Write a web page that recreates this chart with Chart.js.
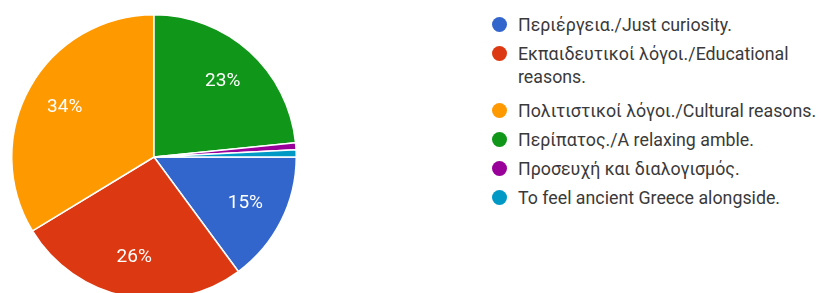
<!DOCTYPE html>
<html>
<head>
<meta charset="utf-8">
<script src="https://cdn.jsdelivr.net/npm/chart.js@4/dist/chart.umd.min.js"></script>
<style>
  html, body { margin: 0; padding: 0; background: #fff; overflow: hidden; }
  body { width: 821px; height: 293px; position: relative; }
  #pie-wrap { position: absolute; left: 11px; top: 14px; width: 286px; height: 286px; }
  #legend { position: absolute; left: 492px; top: 13px; font-family: Roboto, Arial, sans-serif; font-size: 17.8px; color: #3a3a3a; }
  .item { position: relative; padding-left: 26px; line-height: 23px; margin-bottom: 6px; white-space: nowrap; }
  .item.multi { margin-bottom: 11px; }
  .dot { position: absolute; left: 0px; top: 4px; width: 15px; height: 15px; border-radius: 50%; }
</style>
</head>
<body>
<div id="pie-wrap"><canvas id="pie"></canvas></div>
<div id="legend"></div>
<script>
// answers, in legend order
const labels = [
  "Περιέργεια./Just curiosity.",
  ["Εκπαιδευτικοί λόγοι./Educational", "reasons."],
  "Πολιτιστικοί λόγοι./Cultural reasons.",
  "Περίπατος./A relaxing amble.",
  "Προσευχή και διαλογισμός.",
  "To feel ancient Greece alongside."
];
const shares = [14.9, 26.4, 33.7, 23.4, 0.8, 0.8];
const colors = ["#3366cc", "#dc3912", "#ff9900", "#109618", "#990099", "#0099c6"];

const total = shares.reduce((a, b) => a + b, 0);
// orange slice ends at 12 o'clock
const startAngle = 360 - (shares[0] + shares[1] + shares[2]) / total * 360;

// white percent labels inside bigger slices
const pctLabels = {
  id: "pctLabels",
  afterDatasetsDraw(chart) {
    const ctx = chart.ctx;
    const meta = chart.getDatasetMeta(0);
    ctx.save();
    ctx.fillStyle = "#fff";
    ctx.font = "19px Roboto, Arial, sans-serif";
    ctx.textAlign = "center";
    ctx.textBaseline = "middle";
    meta.data.forEach((arc, i) => {
      const pct = shares[i] / total * 100;
      if (pct < 5) return;
      const mid = (arc.startAngle + arc.endAngle) / 2;
      const r = arc.outerRadius * 0.72;
      ctx.fillText(Math.round(pct) + "%", arc.x + Math.cos(mid) * r, arc.y + Math.sin(mid) * r);
    });
    ctx.restore();
  }
};

new Chart(document.getElementById("pie"), {
  type: "pie",
  data: {
    labels: labels,
    datasets: [{
      data: shares,
      backgroundColor: colors,
      borderColor: "#fff",
      borderWidth: 1.5
    }]
  },
  options: {
    responsive: true,
    maintainAspectRatio: false,
    animation: false,
    rotation: startAngle,
    layout: { padding: 0 },
    plugins: {
      legend: { display: false },
      tooltip: { enabled: false }
    }
  },
  plugins: [pctLabels]
});

// html legend
const legend = document.getElementById("legend");
labels.forEach((lab, i) => {
  const item = document.createElement("div");
  item.className = "item" + (Array.isArray(lab) ? " multi" : "");
  const dot = document.createElement("span");
  dot.className = "dot";
  dot.style.background = colors[i];
  item.appendChild(dot);
  const lines = Array.isArray(lab) ? lab : [lab];
  lines.forEach((ln, j) => {
    if (j) item.appendChild(document.createElement("br"));
    item.appendChild(document.createTextNode(ln));
  });
  legend.appendChild(item);
});
</script>
</body>
</html>
